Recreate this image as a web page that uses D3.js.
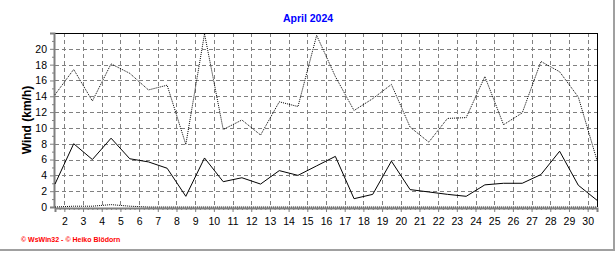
<!DOCTYPE html>
<html><head><meta charset="utf-8">
<script src="https://cdn.jsdelivr.net/npm/d3@7"></script>
<style>body{margin:0;background:#fff;}svg{display:block;}</style>
</head><body>
<script>
const title = "April 2024";
const yLabel = "Wind (km/h)";
const footer = "\u00a9 WsWin32  -  \u00a9 Heiko Blödorn";
const days = d3.range(1, 31);
const windAvg = [2.9,8.0,6.0,8.7,6.1,5.7,4.9,1.35,6.2,3.2,3.7,2.9,4.6,4.0,5.2,6.4,1.05,1.6,5.8,2.2,1.9,1.6,1.35,2.8,3.0,3.0,4.1,7.05,2.75,0.85];
const windGust = [14.2,17.4,13.4,18.1,16.9,14.8,15.4,7.9,21.9,9.8,11.0,9.1,13.3,12.7,21.7,16.5,12.2,13.7,15.5,10.1,8.2,11.2,11.3,16.5,10.4,11.9,18.4,17.1,13.9,5.9];
const windMin = [0,0.1,0.1,0.3,0.1,0,0,0,0,0,0,0,0,0,0,0,0,0,0,0,0,0,0,0,0,0,0,0,0,0];
const xTicks = d3.range(2, 31);
const yTicks = d3.range(0, 21, 2);

const W = 616, H = 253;
const m = {l:55, r:597, t:33, b:207};
const svg = d3.select("body").append("svg").attr("width", W).attr("height", H);

const x = d3.scaleLinear().domain([1, 30]).range([m.l, m.r]);
const xt = d3.scaleLinear().domain([1.5, 30.5]).range([m.l, m.r]);
const y = d3.scaleLinear().domain([0, 22]).range([m.b, m.t]);

// frame
svg.append("line").attr("x1", 614).attr("x2", 614).attr("y1", 0).attr("y2", 251).attr("stroke", "#a0a0a0").attr("stroke-width", 2);
svg.append("line").attr("x1", 0).attr("x2", 615).attr("y1", 250).attr("y2", 250).attr("stroke", "#a0a0a0").attr("stroke-width", 2);

// grid
const g = svg.append("g");
g.selectAll(".vg").data(xTicks).join("line")
  .attr("x1", d => Math.round(xt(d)) + 0.5).attr("x2", d => Math.round(xt(d)) + 0.5)
  .attr("y1", m.t).attr("y2", m.b)
  .attr("stroke", "#808080").attr("stroke-dasharray", "4,3");
g.selectAll(".hg").data(yTicks.filter(d => d > 0)).join("line")
  .attr("y1", d => Math.round(y(d)) + 0.5).attr("y2", d => Math.round(y(d)) + 0.5)
  .attr("x1", m.l).attr("x2", m.r)
  .attr("stroke", "#808080").attr("stroke-dasharray", "4,3");

// border top/right
svg.append("line").attr("x1", m.l).attr("x2", m.r + 0.5).attr("y1", m.t + 0.5).attr("y2", m.t + 0.5).attr("stroke", "#000");
svg.append("line").attr("x1", m.r + 0.5).attr("x2", m.r + 0.5).attr("y1", m.t).attr("y2", m.b).attr("stroke", "#000");

// y axis
const yAxis = d3.axisLeft(y).tickValues(yTicks).tickSize(4).tickPadding(3).tickFormat(d3.format("d"));
const ya = svg.append("g").attr("transform", `translate(${m.l - 1},0)`).call(yAxis);
const yMinor = d3.axisLeft(y).tickValues(d3.range(1, 22, 2)).tickSize(2).tickFormat("");
svg.append("g").attr("transform", `translate(${m.l - 1},0)`).call(yMinor).select(".domain").remove();

// x axis
const xAxis = d3.axisBottom(xt).tickValues(xTicks).tickSize(4).tickPadding(6).tickFormat(d3.format("d"));
const xa = svg.append("g").attr("transform", `translate(0,${m.b + 1})`).call(xAxis);
const xMinor = d3.axisBottom(xt).tickValues(d3.range(1.5, 30.5, 0.25)).tickSize(2).tickFormat("");
svg.append("g").attr("transform", `translate(0,${m.b + 1})`).call(xMinor).select(".domain").remove();

[ya, xa].forEach(a => {
  a.select(".domain").attr("stroke", "#808080").attr("stroke-width", 2);
  a.selectAll(".tick line").attr("stroke", "#808080");
  a.selectAll("text").attr("fill", "#000").style("font-family", "Arial, 'Liberation Sans', sans-serif").style("font-size", "10.5px");
});
svg.selectAll(".tick line").attr("stroke", "#808080");

// lines
const line = d3.line().x((d, i) => x(days[i])).y(d => y(d));
svg.append("path").datum(windMin).attr("d", line).attr("fill", "none").attr("stroke", "#000").attr("stroke-dasharray", "1,1");
svg.append("path").datum(windGust).attr("d", line).attr("fill", "none").attr("stroke", "#000").attr("stroke-dasharray", "1,1");
svg.append("path").datum(windAvg).attr("d", line).attr("fill", "none").attr("stroke", "#000").attr("stroke-width", 1);

// texts
svg.append("text").attr("x", 308).attr("y", 22).attr("text-anchor", "middle")
  .style("font-family", "Arial, 'Liberation Sans', sans-serif").style("font-size", "10.5px").style("font-weight", "bold")
  .attr("fill", "#0000ff").text(title);
svg.append("text").attr("transform", `translate(31,${(m.t + m.b) / 2}) rotate(-90)`).attr("text-anchor", "middle")
  .style("font-family", "Arial, 'Liberation Sans', sans-serif").style("font-size", "12px").style("font-weight", "bold")
  .attr("fill", "#000").text(yLabel);
svg.append("text").attr("x", 21).attr("y", 242)
  .style("font-family", "Arial, 'Liberation Sans', sans-serif").style("font-size", "7px").style("font-weight", "bold")
  .attr("fill", "#ff0000").text(footer);
</script>
</body></html>
